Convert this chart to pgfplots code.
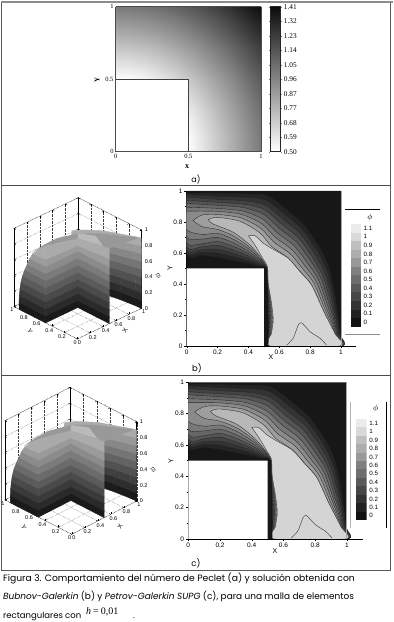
\documentclass[border=0pt]{standalone}
\usepackage{fontspec}
\usepackage{pgfplots}
\usepackage{pgfplotstable}
\pgfplotsset{compat=1.18}
\setmainfont{Liberation Sans}
\newfontfamily\serf{Liberation Serif}
\newfontfamily\capf{Poppins}
% Peclet number
\pgfplotstableread[row sep=\\]{x y z\\
0 0 0\\.1 0 .1\\.2 0 .2\\.3 0 .3\\.4 0 .4\\.5 0 .5\\.6 0 .6\\.7 0 .7\\.8 0 .8\\.9 0 .9\\1 0 1\\
0 .1 .1\\.1 .1 .141\\.2 .1 .224\\.3 .1 .316\\.4 .1 .412\\.5 .1 .51\\.6 .1 .608\\.7 .1 .707\\.8 .1 .806\\.9 .1 .906\\1 .1 1.005\\
0 .2 .2\\.1 .2 .224\\.2 .2 .283\\.3 .2 .361\\.4 .2 .447\\.5 .2 .539\\.6 .2 .632\\.7 .2 .728\\.8 .2 .825\\.9 .2 .922\\1 .2 1.02\\
0 .3 .3\\.1 .3 .316\\.2 .3 .361\\.3 .3 .424\\.4 .3 .5\\.5 .3 .583\\.6 .3 .671\\.7 .3 .762\\.8 .3 .854\\.9 .3 .949\\1 .3 1.044\\
0 .4 .4\\.1 .4 .412\\.2 .4 .447\\.3 .4 .5\\.4 .4 .566\\.5 .4 .64\\.6 .4 .721\\.7 .4 .806\\.8 .4 .894\\.9 .4 .985\\1 .4 1.077\\
0 .5 .5\\.1 .5 .51\\.2 .5 .539\\.3 .5 .583\\.4 .5 .64\\.5 .5 .707\\.6 .5 .781\\.7 .5 .86\\.8 .5 .943\\.9 .5 1.03\\1 .5 1.118\\
0 .6 .6\\.1 .6 .608\\.2 .6 .632\\.3 .6 .671\\.4 .6 .721\\.5 .6 .781\\.6 .6 .849\\.7 .6 .922\\.8 .6 1\\.9 .6 1.082\\1 .6 1.166\\
0 .7 .7\\.1 .7 .707\\.2 .7 .728\\.3 .7 .762\\.4 .7 .806\\.5 .7 .86\\.6 .7 .922\\.7 .7 .99\\.8 .7 1.063\\.9 .7 1.14\\1 .7 1.22\\
0 .8 .8\\.1 .8 .806\\.2 .8 .825\\.3 .8 .854\\.4 .8 .894\\.5 .8 .943\\.6 .8 1\\.7 .8 1.063\\.8 .8 1.131\\.9 .8 1.204\\1 .8 1.281\\
0 .9 .9\\.1 .9 .906\\.2 .9 .922\\.3 .9 .949\\.4 .9 .985\\.5 .9 1.03\\.6 .9 1.082\\.7 .9 1.14\\.8 .9 1.204\\.9 .9 1.273\\1 .9 1.345\\
0 1 1\\.1 1 1.005\\.2 1 1.02\\.3 1 1.044\\.4 1 1.077\\.5 1 1.118\\.6 1 1.166\\.7 1 1.22\\.8 1 1.281\\.9 1 1.345\\1 1 1.414\\
}\Peclet
\pgfplotstableread[row sep=\\]{x y z\\0 .5 .5\\1 .5 .5\\0 1.41 1.41\\1 1.41 1.41\\}\PecBar
% contour levels of phi
\pgfplotstableread[row sep=\\]{x y\\0 .985\\.2 .985\\.39 .98\\.52 .97\\.658 .869\\.767 .772\\.875 .611\\.929 .482\\.965 .30\\.993 .08\\1 0\\.52 0\\.52 .505\\.47 .515\\.4 .533\\.3 .553\\.2 .573\\.1 .586\\0 .595\\0 .985\\}\LvA
\pgfplotstableread[row sep=\\]{x y\\0 .975\\.199 .966\\.384 .958\\.514 .94\\.645 .841\\.753 .747\\.857 .595\\.914 .471\\.955 .29\\.989 .08\\.999 0\\.522 0\\.523 .082\\.525 .168\\.523 .275\\.521 .4\\.521 .503\\.47 .524\\.4 .549\\.3 .576\\.2 .599\\.1 .605\\0 .61\\0 .975\\}\LvB
\pgfplotstableread[row sep=\\]{x y\\0 .96\\.199 .946\\.379 .936\\.509 .91\\.631 .813\\.74 .721\\.84 .579\\.899 .46\\.945 .283\\.985 .08\\.998 0\\.524 0\\.527 .082\\.529 .168\\.527 .275\\.522 .4\\.521 .503\\.47 .533\\.4 .565\\.3 .599\\.2 .624\\.1 .622\\0 .625\\0 .96\\}\LvC
\pgfplotstableread[row sep=\\]{x y\\0 .94\\.198 .927\\.373 .914\\.503 .88\\.618 .784\\.726 .696\\.822 .563\\.884 .449\\.935 .275\\.981 .081\\.998 0\\.526 0\\.53 .082\\.534 .168\\.53 .275\\.523 .4\\.522 .503\\.47 .541\\.4 .581\\.3 .621\\.2 .65\\.1 .64\\0 .64\\0 .94\\}\LvD
\pgfplotstableread[row sep=\\]{x y\\0 .92\\.197 .908\\.368 .893\\.498 .85\\.604 .756\\.713 .67\\.805 .547\\.87 .438\\.925 .266\\.977 .081\\.997 0\\.528 0\\.533 .082\\.538 .168\\.533 .275\\.524 .4\\.522 .503\\.47 .55\\.4 .596\\.3 .644\\.2 .675\\.1 .66\\0 .665\\0 .92\\}\LvE
\pgfplotstableread[row sep=\\]{x y\\0 .895\\.196 .888\\.362 .871\\.492 .819\\.59 .728\\.699 .645\\.787 .53\\.855 .427\\.915 .257\\.973 .081\\.996 0\\.53 0\\.537 .082\\.543 .168\\.537 .275\\.525 .4\\.523 .503\\.47 .559\\.4 .612\\.3 .667\\.2 .701\\.1 .69\\0 .70\\0 .895\\}\LvF
\pgfplotstableread[row sep=\\]{x y\\0 .87\\.196 .869\\.356 .849\\.486 .789\\.577 .7\\.685 .619\\.769 .514\\.84 .416\\.905 .249\\.969 .082\\.996 0\\.532 0\\.54 .082\\.547 .168\\.54 .275\\.526 .4\\.523 .503\\.47 .568\\.4 .628\\.3 .69\\.2 .727\\.1 .72\\0 .75\\0 .87\\}\LvG
\pgfplotstableread[row sep=\\]{x y\\.04 .81\\.1 .845\\.195 .849\\.351 .827\\.481 .759\\.564 .671\\.672 .594\\.752 .498\\.825 .405\\.895 .24\\.965 .082\\.995 0\\.534 0\\.543 .082\\.552 .168\\.543 .275\\.527 .4\\.524 .5\\.47 .576\\.4 .644\\.3 .712\\.2 .752\\.1 .77\\.04 .81\\}\LvH
\pgfplotstableread[row sep=\\]{x y\\.14 .815\\.194 .83\\.345 .805\\.475 .729\\.55 .643\\.658 .568\\.734 .482\\.81 .394\\.885 .232\\.961 .082\\.994 0\\.536 0\\.547 .082\\.556 .168\\.547 .275\\.528 .4\\.525 .5\\.47 .585\\.4 .66\\.3 .735\\.172 .787\\.14 .815\\}\LvI
\pgfplotstableread[row sep=\\]{x y\\.40 .712\\.443 .711\\.496 .664\\.55 .63\\.658 .566\\.734 .48\\.81 .392\\.885 .23\\.961 .08\\.992 0\\.54 0\\.55 .082\\.561 .168\\.55 .275\\.529 .404\\.524 .51\\.496 .56\\.443 .65\\.40 .712\\}\LvJ
\pgfplotstableread[row sep=\\]{x y\\.648 .006\\.69 .05\\.723 .135\\.745 .15\\.8 .092\\.864 .05\\.907 .006\\}\Bump
% 3D walls
\pgfplotstableread[row sep=\\]{x y z\\
.658 .869 0\\.767 .772 0\\.875 .611 0\\.929 .482 0\\.965 .30 0\\.993 .08 0\\1 0 0\\
.658 .869 .1\\.767 .772 .1\\.875 .611 .1\\.929 .482 .1\\.965 .30 .1\\.993 .08 .1\\1 0 .1\\
.645 .841 .2\\.753 .747 .2\\.857 .595 .2\\.914 .471 .2\\.955 .29 .2\\.989 .08 .2\\.999 0 .2\\
.631 .813 .3\\.74 .721 .3\\.84 .579 .3\\.899 .46 .3\\.945 .283 .3\\.985 .08 .3\\.998 0 .3\\
.618 .784 .4\\.726 .696 .4\\.822 .563 .4\\.884 .449 .4\\.935 .275 .4\\.981 .081 .4\\.998 0 .4\\
.604 .756 .5\\.713 .67 .5\\.805 .547 .5\\.87 .438 .5\\.925 .266 .5\\.977 .081 .5\\.997 0 .5\\
.59 .728 .6\\.699 .645 .6\\.787 .53 .6\\.855 .427 .6\\.915 .257 .6\\.973 .081 .6\\.996 0 .6\\
.577 .7 .7\\.685 .619 .7\\.769 .514 .7\\.84 .416 .7\\.905 .249 .7\\.969 .082 .7\\.996 0 .7\\
.564 .671 .8\\.672 .594 .8\\.752 .498 .8\\.825 .405 .8\\.895 .24 .8\\.965 .082 .8\\.995 0 .8\\
.55 .643 .9\\.658 .568 .9\\.734 .482 .9\\.81 .394 .9\\.885 .232 .9\\.961 .082 .9\\.994 0 .9\\
}\ArcWall
\pgfplotstableread[row sep=\\]{x y z\\
0 .5 0\\.5 .5 0\\0 .5 .09\\.5 .5 .09\\0 .5 .18\\.5 .5 .18\\0 .5 .27\\.5 .5 .27\\0 .5 .36\\.5 .5 .36\\0 .5 .45\\.5 .5 .45\\0 .5 .54\\.5 .5 .54\\0 .5 .63\\.5 .5 .63\\0 .5 .72\\.5 .5 .72\\0 .5 .81\\.5 .5 .79\\0 .5 .98\\.5 .5 .88\\
}\WallB
\pgfplotstableread[row sep=\\]{x y z\\
.5 .5 0\\.5 0 0\\.5 .5 .09\\.5 0 .09\\.5 .5 .18\\.5 0 .18\\.5 .5 .27\\.5 0 .27\\.5 .5 .36\\.5 0 .36\\.5 .5 .45\\.5 0 .45\\.5 .5 .54\\.5 0 .54\\.5 .5 .63\\.5 0 .63\\.5 .5 .72\\.5 0 .72\\.5 .5 .79\\.5 0 .83\\.5 .5 .88\\.5 0 .96\\
}\WallA
\pgfplotstableread[row sep=\\]{x y z\\
0 .92 0\\0 .5 0\\0 .92 .09\\0 .5 .09\\0 .915 .18\\0 .5 .18\\0 .905 .27\\0 .5 .27\\0 .89 .36\\0 .5 .36\\0 .865 .45\\0 .5 .45\\0 .83 .54\\0 .5 .54\\0 .79 .63\\0 .5 .63\\0 .75 .72\\0 .5 .72\\0 .70 .80\\0 .5 .81\\0 .6 .9\\0 .5 .98\\
}\WallL
\pgfplotsset{
  threed/.style={
    disabledatascaling, clip=false,
    xmin=0,xmax=1,ymin=0,ymax=1,zmin=0,zmax=1,
    xtick={0,.2,.4,.6,.8,1},ytick={0,.2,.4,.6,.8,1},ztick={0,.2,.4,.6,.8,1},
    xticklabels={0,0.2,0.4,0.6,0.8,1},yticklabels={0,0.2,0.4,0.6,0.8,1},zticklabels={0,0.2,0.4,0.6,0.8,1},
    zticklabel pos=right,
    tick label style={font=\fontsize{5.5}{5.5}\selectfont,inner sep=1pt},
    zticklabel style={xshift=2pt},
    tick style={black,line width=.3pt},
    major tick length=2pt,
    grid=major, grid style={black!75,densely dotted,line width=.35pt},
    axis line style={black,line width=.45pt,densely dotted},
    colormap={wall}{gray(0cm)=(.07); gray(1cm)=(.7)},
    point meta min=0, point meta max=.9,
  },
  wall/.style={surf,shader=flat,mesh/ordering=x varies},
  contax/.style={
    scale only axis, axis x line=bottom, axis y line=left, axis line style={-,line width=.7pt},
    xmin=0,xmax=1.1,ymin=0,ymax=1,
    xtick={0,.2,.4,.6,.8,1},ytick={0,.2,.4,.6,.8,1},
    xticklabels={0,0.2,0.4,0.6,0.8,1},yticklabels={0,0.2,0.4,0.6,0.8,1},
    minor tick num=1,
    tick align=outside, major tick length=2.5pt, minor tick length=1.5pt,
    tick label style={font=\fontsize{6.5}{7}\selectfont,inner sep=1.5pt},
    tick style={black,line width=.4pt},
  },
  lev/.style={smooth,tension=.45,line width=.35pt,draw=black!85,fill=black!#1,mark=none,forget plot},
  legax/.style={
    scale only axis, xmin=0,xmax=1,ymin=0,ymax=12,
    axis line style={draw=none},
    xtick=\empty, ytick={.5,1.5,2.5,3.5,4.5,5.5,6.5,7.5,8.5,9.5,10.5,11.5},
    yticklabels={0,0.1,0.2,0.3,0.4,0.5,0.6,0.7,0.8,0.9,1,1.1},
    yticklabel pos=right, major tick length=0pt,
    tick label style={font=\fontsize{6.2}{6.5}\selectfont,inner sep=2.5pt},
  },
  sw/.style={fill=black!#1,draw=none,forget plot,mark=none},
}
\newcommand{\threedplots}{%
  \addplot3[black,line width=.45pt,mark=none] coordinates {(1,0,0)(1,0,1)};
  \addplot3[black,line width=.45pt,mark=none] coordinates {(0,1,0)(0,1,1)};
  \addplot3[black,line width=.45pt,mark=none] coordinates {(1,1,0)(1,1,1)};
  \addplot3[wall,mesh/rows=10,mesh/cols=7] table {\ArcWall};
  \addplot3[fill=black!40,draw=none,mark=none] coordinates {(0,.72,.8)(.15,.689,.857)(.3,.631,.907)(.6,.594,.87)(.8,.44,.854)(.9,.346,.832)(.99,.03,.894)(.5,0,.96)(.5,.5,.88)(0,.5,.98)(0,.72,.8)};
  \addplot3[fill=black!27,draw=none,mark=none] coordinates {(.5,.5,.88)(.5,.1,.95)(.7,.42,.87)(.6,.594,.87)(.5,.5,.88)};
  \addplot3[wall,mesh/rows=11,mesh/cols=2] table {\WallB};
  \addplot3[wall,mesh/rows=11,mesh/cols=2] table {\WallA};
  \addplot3[wall,mesh/rows=11,mesh/cols=2] table {\WallL};
}
\newcommand{\contourplots}{%
  \addplot[fill=black!91,draw=none,mark=none,forget plot] coordinates {(0,0)(1,0)(1,1)(0,1)(0,0)};
  \addplot[lev=86] table {\LvA};
  \addplot[lev=80] table {\LvB};
  \addplot[lev=74] table {\LvC};
  \addplot[lev=67] table {\LvD};
  \addplot[lev=60] table {\LvE};
  \addplot[lev=53] table {\LvF};
  \addplot[lev=46] table {\LvG};
  \addplot[lev=38] table {\LvH};
  \addplot[lev=28] table {\LvI};
  \addplot[lev=17] table {\LvJ};
  \addplot[black!80,line width=.4pt,smooth,tension=.4,mark=none,forget plot] table {\Bump};
  \addplot[fill=black!91,draw=none,mark=none,forget plot] coordinates {(.5,0)(.53,0)(.531,.1)(.53,.2)(.525,.4)(.52,.505)(.5,.505)(.5,0)};
  \addplot[fill=white,draw=none,mark=none,forget plot] coordinates {(0,0)(.5,0)(.5,.5)(0,.5)(0,0)};
  \addplot[black!35,line width=.9pt,mark=none,forget plot] coordinates {(1,0)(1,1)};
}
\newcommand{\legendplots}{%
  \addplot[sw=93] coordinates {(0,0)(1,0)(1,1)(0,1)};
  \addplot[sw=87] coordinates {(0,1)(1,1)(1,2)(0,2)};
  \addplot[sw=80] coordinates {(0,2)(1,2)(1,3)(0,3)};
  \addplot[sw=72] coordinates {(0,3)(1,3)(1,4)(0,4)};
  \addplot[sw=65] coordinates {(0,4)(1,4)(1,5)(0,5)};
  \addplot[sw=57] coordinates {(0,5)(1,5)(1,6)(0,6)};
  \addplot[sw=50] coordinates {(0,6)(1,6)(1,7)(0,7)};
  \addplot[sw=40] coordinates {(0,7)(1,7)(1,8)(0,8)};
  \addplot[sw=32] coordinates {(0,8)(1,8)(1,9)(0,9)};
  \addplot[sw=25] coordinates {(0,9)(1,9)(1,10)(0,10)};
  \addplot[sw=15] coordinates {(0,10)(1,10)(1,11)(0,11)};
  \addplot[sw=8] coordinates {(0,11)(1,11)(1,12)(0,12)};
}
\begin{document}
\begin{tikzpicture}[x=1pt,y=1pt]
\path[use as bounding box,fill=white] (0,0) rectangle (394,622);
% frames
\draw[black!65,line width=.9pt] (1.5,52) rectangle (390,619.5);
\draw[black!45,line width=1.8pt] (1,620) -- (393,620);
\draw[black!70,line width=.8pt] (1.5,436.5) -- (390,436.5);
\draw[black!70,line width=.8pt] (1.5,247) -- (390,247);
% panel a
\begin{axis}[at={(115.7pt,470.3pt)},anchor=south west,scale only axis,width=145.3pt,height=145pt,
  view={0}{90},xmin=0,xmax=1,ymin=0,ymax=1,
  xtick={0,.5,1},ytick={0,.5,1},xticklabels={0,0.5,1},yticklabels={0,0.5,1},
  tick label style={font=\serf\fontsize{6.5}{7}\selectfont,inner sep=2pt},
  major tick length=0pt, axis line style={black!70,line width=.5pt},
  colormap={wk}{gray(0cm)=(1); gray(1cm)=(.05)},
  point meta min=.5,point meta max=1.41]
\addplot3[surf,shader=interp,mesh/rows=11,mesh/cols=11] table {\Peclet};
\addplot3[fill=white,draw=black!75,line width=.6pt,mark=none] coordinates {(0,0,2)(.5,0,2)(.5,.5,2)(0,.5,2)(0,0,2)};
\end{axis}
\begin{axis}[at={(270pt,470.3pt)},anchor=south west,scale only axis,width=10.7pt,height=145pt,
  view={0}{90},xmin=0,xmax=1,ymin=.5,ymax=1.41,xtick=\empty,
  ytick={.5,.591,.682,.773,.864,.955,1.046,1.137,1.228,1.319,1.41},
  yticklabels={0.50,0.59,0.68,0.77,0.87,0.96,1.05,1.14,1.23,1.32,1.41},
  yticklabel pos=right,tick label style={font=\serf\fontsize{7.3}{7.5}\selectfont,inner sep=1.5pt},
  major tick length=1.5pt,tick align=outside,axis line style={black!85,line width=.5pt},
  colormap={wk}{gray(0cm)=(1); gray(1cm)=(.05)},
  point meta min=.5,point meta max=1.41]
\addplot3[surf,shader=interp,mesh/rows=2,mesh/cols=2] table {\PecBar};
\end{axis}
\node[font=\serf\bfseries\fontsize{8}{8}\selectfont] at (187,455) {x};
\node[font=\serf\bfseries\fontsize{7}{7}\selectfont,rotate=90] at (97,542) {Y};
\node[font=\capf\fontsize{8}{8}\selectfont] at (196,442) {a)};
% panel b 3D
\begin{axis}[threed,at={(77.3pt,283pt)},anchor=origin,x={(64.3pt,30.7pt)},y={(-63.3pt,32.3pt)},z={(0pt,78.3pt)}]
\threedplots
\end{axis}
\node[font=\fontsize{6.5}{6.5}\selectfont,rotate=-60] at (30,291) {Y};
\node[font=\fontsize{6.5}{6.5}\selectfont,rotate=60] at (125,291) {X};
\node[font=\fontsize{8}{8}\selectfont,rotate=90] at (158,346) {$\phi$};
% panel b contour
\begin{axis}[contax,at={(186.7pt,276pt)},anchor=south west,width=169.7pt,height=155pt]
\contourplots
\end{axis}
\node[font=\fontsize{7}{7}\selectfont] at (271,265) {X};
\node[font=\fontsize{7}{7}\selectfont,rotate=90] at (170,354) {Y};
\node[font=\capf\fontsize{8.5}{8.5}\selectfont] at (197,254) {b)};
\fill[white] (345,288) rectangle (380,413);
\draw[black,line width=.8pt] (345,413) -- (380,413);
\draw[black!45,line width=.8pt] (345,288) -- (380,288);
\node[font=\fontsize{8}{8}\selectfont] at (370,404) {$\phi$};
\begin{axis}[legax,at={(350.7pt,295.3pt)},anchor=south west,width=10.3pt,height=102.7pt]
\legendplots
\end{axis}
% panel c 3D
\begin{axis}[threed,at={(71.7pt,87.7pt)},anchor=origin,x={(65pt,33.3pt)},y={(-66.7pt,34.3pt)},z={(0pt,79.3pt)}]
\threedplots
\end{axis}
\node[font=\fontsize{6.5}{6.5}\selectfont,rotate=-60] at (24,95) {Y};
\node[font=\fontsize{6.5}{6.5}\selectfont,rotate=60] at (120,95) {X};
\node[font=\fontsize{8}{8}\selectfont,rotate=90] at (153,152) {$\phi$};
% panel c contour
\begin{axis}[contax,at={(188.3pt,83pt)},anchor=south west,width=174.5pt,height=156.7pt]
\contourplots
\end{axis}
\node[font=\fontsize{7}{7}\selectfont] at (275,71) {X};
\node[font=\fontsize{7}{7}\selectfont,rotate=90] at (171,161) {Y};
\node[font=\capf\fontsize{8.5}{8.5}\selectfont] at (196,59) {c)};
\fill[white] (350,94) rectangle (386,221);
\draw[black!30,line width=.6pt] (350.3,94.3) -- (350.3,220.3);
\draw[black,line width=.8pt] (386,94.3) -- (386,220.3);
\node[font=\fontsize{8}{8}\selectfont] at (375.7,213) {$\phi$};
\begin{axis}[legax,at={(356pt,102pt)},anchor=south west,width=10.7pt,height=101pt]
\legendplots
\end{axis}
% caption
\node[anchor=base west,inner sep=0pt,font=\capf\fontsize{9.2}{10}\selectfont] at (3,40) {Figura 3. Comportamiento del número de Peclet (a) y solución obtenida con};
\node[anchor=base west,inner sep=0pt,font=\capf\fontsize{8.95}{10}\selectfont] at (3,23) {\textit{Bubnov-Galerkin} (b) y \textit{Petrov-Galerkin SUPG} (c), para una malla de elementos};
\node[anchor=base west,inner sep=0pt,font=\capf\fontsize{8.5}{10}\selectfont] at (3,4) {rectangulares con};
\node[anchor=base west,inner sep=0pt,font=\serf\fontsize{10}{11}\selectfont] at (86,7) {\textit{h}\hspace{2pt}=\hspace{2pt}0,01};
\node[anchor=base west,inner sep=0pt,font=\capf\fontsize{8.5}{10}\selectfont] at (133,4) {.};
\end{tikzpicture}
\end{document}
